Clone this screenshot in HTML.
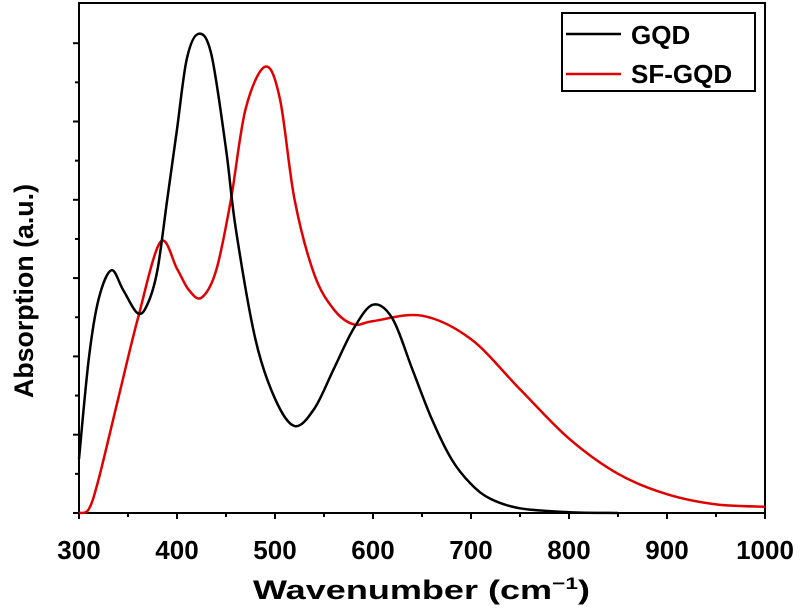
<!DOCTYPE html>
<html><head><meta charset="utf-8"><style>
html,body{margin:0;padding:0;background:#fff;}
svg{display:block;font-family:"Liberation Sans",Arial,sans-serif;}
</style></head><body>
<svg id="chart" width="800" height="616" viewBox="0 0 800 616" xmlns="http://www.w3.org/2000/svg">
<rect x="79" y="3" width="686" height="510" fill="none" stroke="#000" stroke-width="2"/>
<g id="ticks"></g>
<g id="series"></g>
<text x="253" y="599" textLength="337" lengthAdjust="spacingAndGlyphs" font-size="27" font-weight="bold">Wavenumber (cm<tspan font-size="17" dy="-10">−1</tspan><tspan dy="10">)</tspan></text>
<text transform="translate(33,398) rotate(-90)" textLength="214" lengthAdjust="spacingAndGlyphs" font-size="27" font-weight="bold">Absorption (a.u.)</text>
<g>
<rect x="562" y="13" width="193" height="78" fill="#fff" stroke="#000" stroke-width="2"/>
<line x1="566" y1="34" x2="621" y2="34" stroke="#000" stroke-width="2.5"/>
<text x="631" y="44" font-size="26" font-weight="bold">GQD</text>
<line x1="566" y1="74" x2="621" y2="74" stroke="#e00000" stroke-width="2.5"/>
<text x="631" y="83" font-size="26" font-weight="bold">SF-GQD</text>
</g>
</svg>
<script>
const xTicks = [300,400,500,600,700,800,900,1000];
const gqdX = [300,310,320,333,345,360,370,380,390,400,410,422,435,450,460,480,500,520,540,560,580,600,620,640,660,680,700,720,750,800,850];
const gqdY = [0.69,1.97,2.73,3.1,2.85,2.55,2.67,3.1,4.0,4.9,5.8,6.12,5.86,4.65,3.63,2.22,1.46,1.11,1.33,1.84,2.35,2.66,2.48,1.84,1.2,0.69,0.37,0.18,0.06,0.01,0];
const sfX = [300,310,320,340,360,383,400,412,425,440,455,470,490,505,520,540,560,580,600,650,700,750,800,850,900,950,1000];
const sfY = [0,0.05,0.43,1.46,2.48,3.46,3.12,2.85,2.75,3.1,4.0,5.16,5.7,5.29,4.0,3.05,2.6,2.41,2.45,2.52,2.22,1.58,0.95,0.5,0.24,0.11,0.08];
const NS="http://www.w3.org/2000/svg";
const X0=79,X1=765,Y0=513,UNIT=78.3;
const sx=v=>X0+(v-300)/700*(X1-X0);
const sy=v=>Y0-v*UNIT;
const tg=document.getElementById('ticks');
function ln(x1,y1,x2,y2,name){const l=document.createElementNS(NS,'line');l.setAttribute('x1',x1);l.setAttribute('y1',y1);l.setAttribute('x2',x2);l.setAttribute('y2',y2);l.setAttribute('stroke','#000');l.setAttribute('stroke-width','2');


tg.appendChild(l);}
xTicks.forEach((t,i)=>{const x=sx(t);ln(x,Y0,x,Y0+6,'x-tick');
if(i<xTicks.length-1){const m=sx(t+50);ln(m,Y0,m,Y0+4,'x-minor-tick');}
const tx=document.createElementNS(NS,'text');tx.setAttribute('x',x);tx.setAttribute('y',559);tx.setAttribute('text-anchor','middle');tx.setAttribute('font-size','26');tx.setAttribute('font-weight','bold');tx.textContent=t;


tg.appendChild(tx);});
for(let k=0;k<=6;k++){ln(X0-6,sy(k),X0,sy(k),'y-tick');if(k<6)ln(X0-4,sy(k+0.5),X0,sy(k+0.5),'y-minor-tick');}
function path(xs,ys){const p=xs.map((x,i)=>[sx(x),sy(ys[i])]);let d=`M${p[0][0]},${p[0][1]}`;
for(let i=0;i<p.length-1;i++){const a=p[Math.max(0,i-1)],b=p[i],c=p[i+1],e=p[Math.min(p.length-1,i+2)];
const c1=[b[0]+(c[0]-a[0])/6,b[1]+(c[1]-a[1])/6],c2=[c[0]-(e[0]-b[0])/6,c[1]-(e[1]-b[1])/6];
d+=` C${c1[0]},${c1[1]} ${c2[0]},${c2[1]} ${c[0]},${c[1]}`;}return d;}
const sg=document.getElementById('series');
[[sfX,sfY,'#e00000','sf-gqd-line'],[gqdX,gqdY,'#000','gqd-line']].forEach(([xs,ys,c,n])=>{const p=document.createElementNS(NS,'path');p.setAttribute('d',path(xs,ys));p.setAttribute('fill','none');p.setAttribute('stroke',c);p.setAttribute('stroke-width','2.5');


sg.appendChild(p);});
</script>
</body></html>
